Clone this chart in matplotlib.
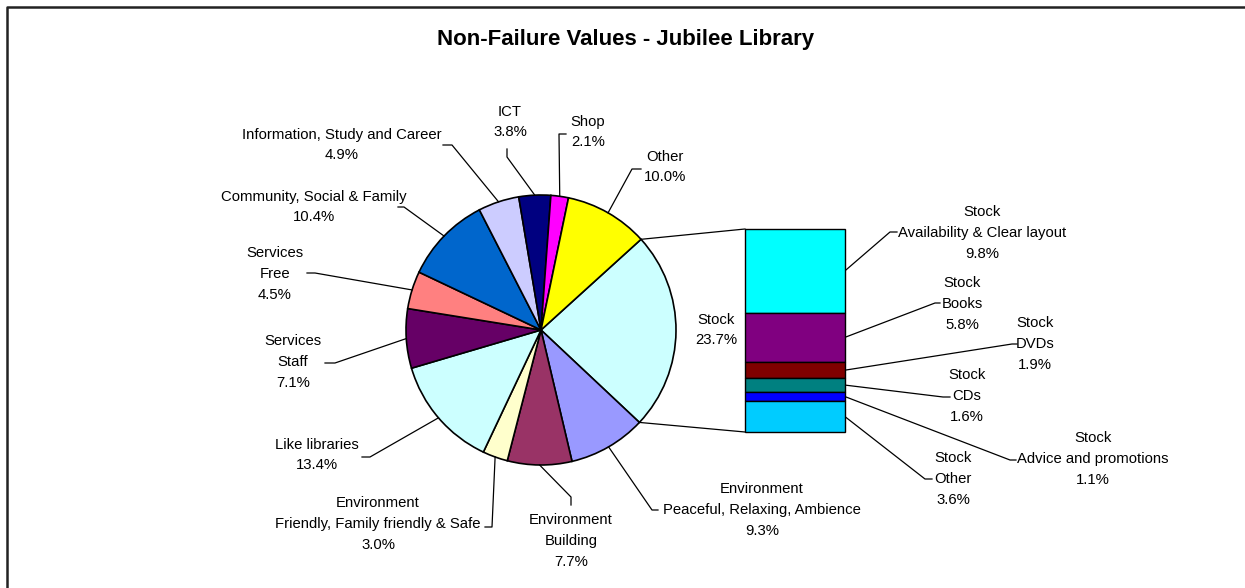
import numpy as np
import matplotlib
matplotlib.use("Agg")
import matplotlib.pyplot as plt

plt.rcParams['font.family'] = ['Liberation Sans', 'DejaVu Sans']

W, H = 1245, 588

# pie slices, clockwise from the split-off "Stock" slice
pie_labels = ["Stock",
              "Environment\nPeaceful, Relaxing, Ambience",
              "Environment\nBuilding",
              "Environment\nFriendly, Family friendly & Safe",
              "Like libraries",
              "Services\nStaff",
              "Services\nFree",
              "Community, Social & Family",
              "Information, Study and Career",
              "ICT",
              "Shop",
              "Other"]
pie_values = [23.7, 9.3, 7.7, 3.0, 13.4, 7.1, 4.5, 10.4, 4.9, 3.8, 2.1, 10.0]
pie_colors = ["#CCFFFF", "#9999FF", "#993366", "#FFFFCC", "#CCFFFF", "#660066",
              "#FF8080", "#0066CC", "#CCCCFF", "#000080", "#FF00FF", "#FFFF00"]

# breakdown of Stock, top to bottom of the bar
bar_labels = ["Stock\nAvailability & Clear layout",
              "Stock\nBooks",
              "Stock\nDVDs",
              "Stock\nCDs",
              "Stock\nAdvice and promotions",
              "Stock\nOther"]
bar_values = [9.8, 5.8, 1.9, 1.6, 1.1, 3.6]
bar_colors = ["#00FFFF", "#800080", "#800000", "#008080", "#0000FF", "#00CCFF"]

title = "Non-Failure Values - Jubilee Library"

# layout, in pixels from the top left corner
pie_center = (541, 330)
pie_radius = 135
start_angle = 42.2
pie_text_pos = [(716, 330), (762, 510), (571, 541), (378, 524), (317, 455),
                (293, 362), (275, 274), (314, 207), (342, 145), (510, 122),
                (588, 132), (665, 167)]
pie_knee = [None, (652, 510), (571, 497), (492, 527), (370, 457), (335, 363),
            (315, 273), (404, 207), (452, 145), (507, 157), (559, 134), (632, 169)]
pie_end = [None, (658, 510), (571, 505), (485, 527), (362, 457), (325, 363),
           (307, 273), (398, 207), (443, 145), (507, 149), (566, 134), (641, 169)]
bar_rect = (745, 229, 845, 432)
bar_text_pos = [(982, 233), (962, 304), (1035, 344), (967, 396), (1093, 459), (953, 479)]
bar_knee = [(890, 232), (935, 303), (1012, 344), (943, 397), (1010, 460), (925, 479)]
bar_end = [(897, 232), (940, 303), (1017, 344), (950, 397), (1016, 460), (932, 479)]


def up(p):
    return (p[0], H - p[1])


fig = plt.figure(figsize=(W / 100, H / 100), dpi=100)
ax = fig.add_axes([0, 0, 1, 1])

cx, cy = up(pie_center)
wedges, _ = ax.pie(pie_values, colors=pie_colors, startangle=start_angle,
                   counterclock=False, center=(cx, cy), radius=pie_radius,
                   wedgeprops=dict(edgecolor="black", linewidth=1.2))
ax.set_xlim(0, W)
ax.set_ylim(0, H)
ax.set_aspect("auto")
ax.axis("off")

total = sum(pie_values)
lkw = dict(color="black", linewidth=0.9)
txt = dict(fontsize=10.7, ha="center", va="center", linespacing=1.6)

angle = start_angle
for i, v in enumerate(pie_values):
    span = 360.0 * v / total
    mid = np.deg2rad(angle - span / 2)
    angle -= span
    tx, ty = up(pie_text_pos[i])
    ax.text(tx, ty, "%s\n%.1f%%" % (pie_labels[i], v), **txt)
    if pie_knee[i] is None:
        continue
    ex, ey = cx + pie_radius * np.cos(mid), cy + pie_radius * np.sin(mid)
    kx, ky = up(pie_knee[i])
    nx, ny = up(pie_end[i])
    ax.plot([ex, kx, nx], [ey, ky, ny], **lkw)

# bar of the split slice
x0, y0, x1, y1 = bar_rect
ax2 = fig.add_axes([x0 / W, (H - y1) / H, (x1 - x0) / W, (y1 - y0) / H])
bar_total = sum(bar_values)
bottom = bar_total
mids = []
for v, c in zip(bar_values, bar_colors):
    bottom -= v
    ax2.bar(0, v, bottom=bottom, width=1, color=c, edgecolor="black",
            linewidth=1, clip_on=False)
    mids.append(bottom + v / 2)
ax2.set_xlim(-0.5, 0.5)
ax2.set_ylim(0, bar_total)
ax2.axis("off")


def to_main(x, y):
    p = ax2.transData.transform((x, y))
    return ax.transData.inverted().transform(p)


for i, v in enumerate(bar_values):
    sx, sy = to_main(0.5, mids[i])
    kx, ky = up(bar_knee[i])
    nx, ny = up(bar_end[i])
    ax.plot([sx, kx, nx], [sy, ky, ny], **lkw)
    tx, ty = up(bar_text_pos[i])
    ax.text(tx, ty, "%s\n%.1f%%" % (bar_labels[i], v), **txt)

# lines joining the Stock slice to the bar
a1 = np.deg2rad(start_angle)
a2 = np.deg2rad(start_angle - 360.0 * pie_values[0] / total)
top = to_main(-0.5, bar_total)
bot = to_main(-0.5, 0)
ax.plot([cx + pie_radius * np.cos(a1), top[0]],
        [cy + pie_radius * np.sin(a1), top[1]], **lkw)
ax.plot([cx + pie_radius * np.cos(a2), bot[0]],
        [cy + pie_radius * np.sin(a2), bot[1]], **lkw)

ax.text(*up((626, 39)), title, fontsize=16, fontweight="bold",
        ha="center", va="center")

# chart frame (runs off the right and bottom edges)
ax.plot([7, 7, W + 5], [-5, H - 7, H - 7], color="#222222", linewidth=1.8,
        clip_on=False)

fig.savefig("out.png", dpi=100)
